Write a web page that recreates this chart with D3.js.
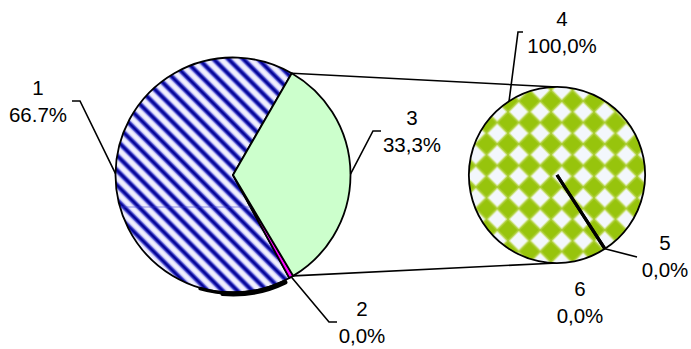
<html lang='en'>
  <head>
    <meta charset='UTF-8' />
    <script src='https://d3js.org/d3.v7.min.js'></script>
    <style>
      body { margin: 0; background: #fff; }
      .lbl { font-family: 'Liberation Sans', Arial, sans-serif; font-size: 20.5px; fill: #000; text-anchor: middle; }
      .leader { fill: none; stroke: #000; stroke-width: 1.6; }
    </style>
    <title>Pie of pie</title>
  </head>
  <body>
  <div id='chart'></div>
  <script>

  // main pie
  const mainNames = ["1", "2", "3"];
  const mainValues = [66.7, 0.6, 33.3];
  const mainText = ["66.7%", "0,0%", "33,3%"];

  // secondary pie
  const subNames = ["4", "5", "6"];
  const subValues = [100, 0, 0];
  const subText = ["100,0%", "0,0%", "0,0%"];

  const width = 691, height = 349;
  const deg = Math.PI / 180;

  const main = { cx: 233, cy: 175, r: 117.5 };
  const sub = { cx: 557, cy: 175, r: 88 };

  // label boxes: centre x, first baseline, leader bend points
  const mainLayout = [
    { x: 38, y: 95, path: [[80, 101], [72, 101]] },
    { x: 362, y: 316, path: [[329, 322], [337, 322]] },
    { x: 412, y: 125, path: [[373, 131], [381, 131]] }
  ];
  const subLayout = [
    { x: 562, y: 26, path: [[518, 32], [523, 32]] },
    { x: 665, y: 250, path: [[637, 257]] },
    { x: 580, y: 296, path: null }
  ];

  const fills = ["url(#stripes)", "#ff00ff", "#ccffcc"];

  const svg = d3.select("#chart").append("svg")
    .attr("width", width).attr("height", height);

  const defs = svg.append("defs");

  // blue diagonal stripes
  const sp = 10.5;
  const grad = defs.append("linearGradient").attr("id", "stripeGrad")
    .attr("x1", 0).attr("x2", 1).attr("y1", 0).attr("y2", 0);
  [[0, "#f7f5ff"], [0.2, "#e2e2fb"], [0.33, "#4a4ad0"], [0.45, "#000092"], [0.55, "#000092"],
   [0.67, "#4a4ad0"], [0.8, "#e2e2fb"], [1, "#f7f5ff"]].forEach(([o, c]) =>
    grad.append("stop").attr("offset", o).attr("stop-color", c));
  const stripes = defs.append("pattern").attr("id", "stripes")
    .attr("patternUnits", "userSpaceOnUse")
    .attr("width", sp).attr("height", sp)
    .attr("patternTransform", "rotate(-45)");
  stripes.append("rect").attr("width", sp).attr("height", sp)
    .attr("fill", "url(#stripeGrad)");

  // green diamond checker
  const dsz = 21.5;
  const checks = defs.append("pattern").attr("id", "checks")
    .attr("patternUnits", "userSpaceOnUse")
    .attr("x", 553 - dsz / 2).attr("y", 98 - dsz / 2)
    .attr("width", dsz).attr("height", dsz);
  checks.append("rect").attr("width", dsz).attr("height", dsz).attr("fill", "#f3f7fc");
  const h = dsz / 2;
  checks.append("polygon")
    .attr("points", `${h},-2 ${dsz + 2},${h} ${h},${dsz + 2} -2,${h}`)
    .attr("fill", "#d2e68c");
  checks.append("polygon")
    .attr("points", `${h},0.5 ${dsz - 0.5},${h} ${h},${dsz - 0.5} 0.5,${h}`)
    .attr("fill", "#97c40c")
    .attr("stroke", "#a8cc2e").attr("stroke-width", 1.5)
    .attr("stroke-linejoin", "round");

  // pies (main goes counter-clockwise from 30deg so the order is 1,2,3)
  const mainArcs = d3.pie().sort(null).startAngle(390 * deg).endAngle(30 * deg)(mainValues);
  const subArcs = d3.pie().sort(null).startAngle(147 * deg).endAngle(507 * deg)(subValues);

  const arcMain = d3.arc().innerRadius(0).outerRadius(main.r);
  const arcSub = d3.arc().innerRadius(0).outerRadius(sub.r);

  const edge = (p, a, rr) => [p.cx + rr * Math.sin(a), p.cy - rr * Math.cos(a)];

  // connector lines between pies (edges of slice 3 to the top / bottom of the 2nd pie)
  const s3 = mainArcs[2];
  const cTop = edge(main, s3.endAngle, main.r);
  const cBot = edge(main, s3.startAngle, main.r);
  svg.append("line").attr("class", "leader")
    .attr("x1", cTop[0]).attr("y1", cTop[1]).attr("x2", sub.cx).attr("y2", sub.cy - sub.r);
  svg.append("line").attr("class", "leader")
    .attr("x1", cBot[0]).attr("y1", cBot[1]).attr("x2", sub.cx).attr("y2", sub.cy + sub.r);

  const gMain = svg.append("g").attr("transform", `translate(${main.cx},${main.cy})`);
  gMain.selectAll("path.slice").data(mainArcs).join("path")
    .attr("class", "slice")
    .attr("d", arcMain)
    .attr("fill", (d, i) => fills[i])
    .attr("stroke", "#000").attr("stroke-width", 1.8).attr("stroke-linejoin", "round");

  // faint tile seam inside slice 1
  defs.append("clipPath").attr("id", "clip1").append("path").attr("d", arcMain(mainArcs[0]));
  gMain.append("line").attr("clip-path", "url(#clip1)")
    .attr("x1", -main.r).attr("x2", main.r).attr("y1", 32).attr("y2", 32)
    .attr("stroke", "#4040d0").attr("stroke-opacity", 0.55).attr("stroke-width", 1);

  // thick dark rim along the bottom
  const rim = d3.arc().cornerRadius(2);
  gMain.append("path")
    .attr("d", rim({ innerRadius: main.r - 1, outerRadius: main.r + 4, startAngle: 153 * deg, endAngle: 186 * deg }))
    .attr("fill", "#000");
  gMain.append("path")
    .attr("d", rim({ innerRadius: main.r - 1, outerRadius: main.r + 2.5, startAngle: 175 * deg, endAngle: 197 * deg }))
    .attr("fill", "#000");

  const gSub = svg.append("g").attr("transform", `translate(${sub.cx},${sub.cy})`);
  gSub.selectAll("path.slice").data(subArcs).join("path")
    .attr("class", "slice")
    .attr("d", arcSub)
    .attr("fill", (d, i) => d.value > 0 ? "url(#checks)" : "none")
    .attr("stroke", "#000")
    .attr("stroke-width", (d) => d.value > 0 ? 1.8 : 3.2);

  // labels + leaders
  function drawLabels(pie, arcs, names, texts, layout) {
    arcs.forEach((a, i) => {
      const L = layout[i];
      if (L.path) {
        const mid = (a.startAngle + a.endAngle) / 2;
        const pts = [edge(pie, mid, pie.r)].concat(L.path);
        svg.append("path").attr("class", "leader").attr("d", d3.line()(pts));
      }
      const t = svg.append("text").attr("class", "lbl");
      t.append("tspan").attr("x", L.x).attr("y", L.y).text(names[i]);
      t.append("tspan").attr("x", L.x).attr("y", L.y + 27).text(texts[i]);
    });
  }
  drawLabels(main, mainArcs, mainNames, mainText, mainLayout);
  drawLabels(sub, subArcs, subNames, subText, subLayout);

  </script>
  </body>
</html>
